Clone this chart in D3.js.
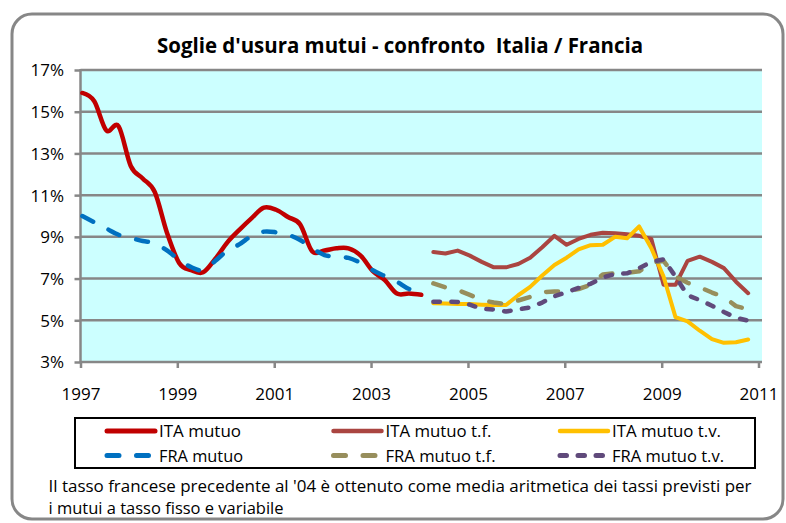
<!DOCTYPE html>
<html><head><meta charset="utf-8">
<script src="https://cdn.jsdelivr.net/npm/d3@7"></script>
<style>
body{margin:0;background:#fff}
svg{display:block}
text{font-family:'Open Sans',sans-serif;fill:#000;white-space:pre}
</style>
</head><body>
<svg id="chart" width="786" height="523"></svg>
<script>
// ---------- data ----------
const titleText = "Soglie d'usura mutui - confronto  Italia / Francia";
const footnoteLines = [
  "Il tasso francese precedente al '04 è ottenuto come media aritmetica dei tassi previsti per",
  "i mutui a tasso fisso e variabile"
];
const yTickValues = [3, 5, 7, 9, 11, 13, 15, 17];
const xTickYears = ["1997", "1999", "2001", "2003", "2005", "2007", "2009", "2011"];

const datesEarly = [
  "1997-01-15","1997-04-15","1997-07-15","1997-10-15",
  "1998-01-15","1998-04-15","1998-07-15","1998-10-15",
  "1999-01-15","1999-04-15","1999-07-15","1999-10-15",
  "2000-01-15","2000-04-15","2000-07-15","2000-10-15",
  "2001-01-15","2001-04-15","2001-07-15","2001-10-15",
  "2002-01-15","2002-04-15","2002-07-15","2002-10-15",
  "2003-01-15","2003-04-15","2003-07-15","2003-10-15",
  "2004-01-15"
];
const datesLate = [
  "2004-04-15","2004-07-15","2004-10-15",
  "2005-01-15","2005-04-15","2005-07-15","2005-10-15",
  "2006-01-15","2006-04-15","2006-07-15","2006-10-15",
  "2007-01-15","2007-04-15","2007-07-15","2007-10-15",
  "2008-01-15","2008-04-15","2008-07-15","2008-10-15",
  "2009-01-15","2009-04-15","2009-07-15","2009-10-15",
  "2010-01-15","2010-04-15","2010-07-15","2010-10-15"
];

const itaMutuo = [15.9, 15.5, 14.1, 14.3, 12.4, 11.8, 11.15, 9.2, 7.75, 7.4, 7.3, 7.95, 8.75, 9.35, 9.9, 10.4,
                  10.3, 9.95, 9.6, 8.3, 8.35, 8.45, 8.45, 8.1, 7.35, 6.93, 6.28, 6.28, 6.22];
const fraMutuo = [10.0, 9.7, 9.4, 9.1, 8.95, 8.8, 8.7, 8.35, 7.9, 7.55, 7.4, 7.85, 8.35, 8.65, 9.05, 9.25,
                  9.22, 9.1, 8.85, 8.45, 8.13, 8.05, 7.99, 7.75, 7.4, 7.12, 6.85, 6.5, 6.4];
const itaMutuoTF = [8.27, 8.2, 8.34, 8.1, 7.8, 7.54, 7.54, 7.7, 8.0, 8.5, 9.05, 8.62, 8.9, 9.1, 9.2, 9.17,
                    9.12, 9.05, 8.9, 6.7, 6.7, 7.85, 8.05, 7.8, 7.5, 6.85, 6.3];
const itaMutuoTV = [5.82, 5.8, 5.78, 5.78, 5.75, 5.73, 5.73, 6.2, 6.6, 7.15, 7.65, 8.0, 8.4, 8.6, 8.62, 9.0,
                    8.93, 9.5, 8.45, 7.1, 5.15, 4.95, 4.5, 4.1, 3.92, 3.95, 4.08];
const fraMutuoTF = [6.77, 6.58, 6.45, 6.22, 5.97, 5.85, 5.78, 5.95, 6.12, 6.35, 6.38, 6.4, 6.5, 6.7, 7.2, 7.25,
                    7.28, 7.35, 7.75, 7.85, 7.1, 6.8, 6.58, 6.33, 6.12, 5.68, 5.52];
const fraMutuoTV = [5.89, 5.89, 5.88, 5.75, 5.55, 5.52, 5.42, 5.52, 5.62, 5.85, 6.15, 6.35, 6.55, 6.75, 7.05, 7.22,
                    7.25, 7.5, 7.8, 7.92, 7.1, 6.2, 5.97, 5.7, 5.4, 5.12, 4.98];

const seriesNames = ["ITA mutuo", "ITA mutuo t.f.", "ITA mutuo t.v.", "FRA mutuo", "FRA mutuo t.f.", "FRA mutuo t.v."];

// ---------- setup ----------
const parse = d3.utcParse("%Y-%m-%d");
const svg = d3.select("#chart");

const plot = {left: 80.5, right: 762, top: 70, bottom: 362};
const x = d3.scaleUtc()
  .domain([d3.utcParse("%Y")("1997"), d3.utcParse("%Y")("2011")])
  .range([80.5, 758.5]);
const y = d3.scaleLinear().domain([3, 17]).range([plot.bottom, plot.top]);

const styles = [
  {color: "#C00000", width: 4.5, dash: null, smooth: true},
  {color: "#AA4541", width: 4, dash: null, smooth: false},
  {color: "#FFC000", width: 4, dash: null, smooth: false},
  {color: "#0070C0", width: 4.5, dash: "12,17.5", smooth: true},
  {color: "#978E5C", width: 4.5, dash: "12,17.5", smooth: false},
  {color: "#604A7B", width: 4.5, dash: "6.5,11.5", smooth: false}
];
const seriesData = [
  [datesEarly, itaMutuo], [datesLate, itaMutuoTF], [datesLate, itaMutuoTV],
  [datesEarly, fraMutuo], [datesLate, fraMutuoTF], [datesLate, fraMutuoTV]
];

// outer frame
svg.append("rect").attr("x", 12).attr("y", 14).attr("width", 771).attr("height", 505)
  .attr("rx", 20).attr("ry", 20).attr("fill", "#fff").attr("stroke", "#878787").attr("stroke-width", 3);

// title
svg.append("text").attr("x", 157).attr("y", 53).attr("font-size", 22).attr("font-weight", "bold")
  .attr("textLength", 486).attr("lengthAdjust", "spacingAndGlyphs").text(titleText);

// plot background
svg.append("rect").attr("x", plot.left).attr("y", plot.top)
  .attr("width", plot.right - plot.left).attr("height", plot.bottom - plot.top).attr("fill", "#CCFFFF");

// gridlines
svg.append("g").selectAll("line").data(yTickValues.filter(v => v > 3)).join("line")
  .attr("x1", plot.left).attr("x2", plot.right)
  .attr("y1", d => y(d)).attr("y2", d => y(d))
  .attr("stroke", "#878787").attr("stroke-width", 2.5);

// y axis
const yAxis = svg.append("g").attr("transform", `translate(${plot.left},0)`)
  .call(d3.axisLeft(y).tickValues(yTickValues).tickFormat(d => d + "%").tickSize(6).tickPadding(10));
yAxis.select(".domain").remove();
yAxis.selectAll(".tick line").attr("stroke", "#878787").attr("stroke-width", 2.5);
yAxis.selectAll(".tick text").attr("font-size", 17).attr("font-family", "'Open Sans',sans-serif")
  .attr("x", -16.5).attr("dy", "0.35em");
svg.append("line").attr("x1", plot.left).attr("x2", plot.left).attr("y1", plot.top - 1).attr("y2", plot.bottom)
  .attr("stroke", "#878787").attr("stroke-width", 2.5);

// x axis
const xAxis = svg.append("g").attr("transform", `translate(0,${plot.bottom})`)
  .call(d3.axisBottom(x).tickValues(xTickYears.map(d3.utcParse("%Y"))).tickFormat(d3.utcFormat("%Y")).tickSize(6));
xAxis.select(".domain").remove();
xAxis.selectAll(".tick line").attr("stroke", "#878787").attr("stroke-width", 2.5);
xAxis.selectAll(".tick text").attr("font-size", 17).attr("font-family", "'Open Sans',sans-serif")
  .attr("y", 38).attr("dy", "0");
svg.append("line").attr("x1", plot.left - 1).attr("x2", plot.right).attr("y1", plot.bottom).attr("y2", plot.bottom)
  .attr("stroke", "#878787").attr("stroke-width", 2.5);

// series lines
const lines = svg.append("g");
seriesData.forEach(([dates, vals], i) => {
  const st = styles[i];
  const pts = dates.map((d, j) => [parse(d), vals[j]]);
  const gen = d3.line().x(d => x(d[0])).y(d => y(d[1]))
    .curve(st.smooth ? d3.curveCatmullRom.alpha(0) : d3.curveLinear);
  lines.append("path").datum(pts).attr("d", gen)
    .attr("fill", "none").attr("stroke", st.color).attr("stroke-width", st.width)
    .attr("stroke-linejoin", "round").attr("stroke-linecap", "round")
    .attr("stroke-dasharray", st.dash);
});

// legend
svg.append("rect").attr("x", 75).attr("y", 418).attr("width", 680).attr("height", 50)
  .attr("fill", "#fff").attr("stroke", "#000").attr("stroke-width", 2);
const legendTextWidths = [82, 106, 109, 84, 110, 112];
seriesNames.forEach((name, i) => {
  const col = i % 3, row = Math.floor(i / 3);
  const x0 = 105 + col * 226.5;
  const yy = 431 + row * 24.5;
  const st = styles[i];
  svg.append("line").attr("x1", x0 + 2).attr("x2", x0 + 50).attr("y1", yy).attr("y2", yy)
    .attr("stroke", st.color).attr("stroke-width", st.width + 0.5)
    .attr("stroke-linecap", "round").attr("stroke-dasharray", st.dash);
  svg.append("text").attr("x", x0 + 54).attr("y", yy + 6).attr("font-size", 17)
    .attr("textLength", legendTextWidths[i]).attr("lengthAdjust", "spacingAndGlyphs").text(name);
});

// footnote
const footWidths = [703, 235];
footnoteLines.forEach((t, i) => {
  svg.append("text").attr("x", 48.5).attr("y", 492 + i * 21.5).attr("font-size", 17)
    .attr("textLength", footWidths[i]).attr("lengthAdjust", "spacingAndGlyphs").text(t);
});
</script>
</body></html>
